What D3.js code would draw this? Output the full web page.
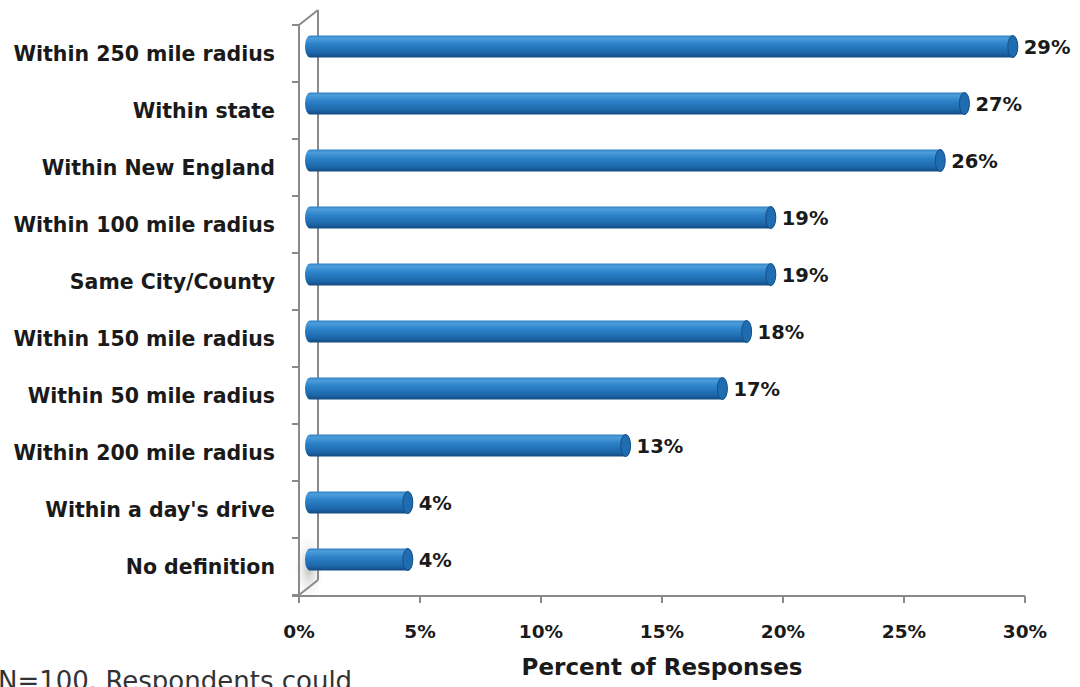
<!DOCTYPE html>
<html><head><meta charset="utf-8">
<script src="https://cdn.jsdelivr.net/npm/d3@7"></script>
<style>
body{margin:0;background:#fff;}
svg{display:block;font-family:"DejaVu Sans","Noto Sans",sans-serif;}
</style></head>
<body><svg id="c" width="1080" height="687"></svg>
<script>
const categories = ["Within 250 mile radius","Within state","Within New England","Within 100 mile radius","Same City/County","Within 150 mile radius","Within 50 mile radius","Within 200 mile radius","Within a day's drive","No definition"];
const values = [29,27,26,19,19,18,17,13,4,4];
const tickValues = [0,5,10,15,20,25,30];
const xTitle = "Percent of Responses";
const note = "N=100. Respondents could";

const svg = d3.select("#c");
const x = d3.scaleLinear().domain([0,30]).range([299,1025]);
const y = d3.scaleBand().domain(categories).range([25,595]);
const depthX = 19, depthY = 15;

const defs = svg.append("defs");
const g1 = defs.append("linearGradient").attr("id","barg").attr("x1",0).attr("y1",0).attr("x2",0).attr("y2",1);
[[0,"#2f80c4"],[0.12,"#4d9ddb"],[0.4,"#2c82c8"],[0.8,"#1c66a9"],[1,"#134a80"]].forEach(s=>g1.append("stop").attr("offset",s[0]).attr("stop-color",s[1]));
const g2 = defs.append("radialGradient").attr("id","shad").attr("cx",0.5).attr("cy",0.5).attr("r",0.5);
g2.append("stop").attr("offset",0).attr("stop-color","#bdbdbd");
g2.append("stop").attr("offset",1).attr("stop-color","#ffffff").attr("stop-opacity",0);

svg.append("ellipse").attr("cx",309).attr("cy",568).attr("rx",16).attr("ry",36).attr("fill","url(#shad)");

const axisColor = "#8a8a8a";
const wall = svg.append("g").attr("stroke",axisColor).attr("stroke-width",2).attr("fill","none");
wall.append("line").attr("x1",x(0)).attr("y1",y.range()[0]).attr("x2",x(0)).attr("y2",y.range()[1]);
wall.append("line").attr("x1",x(0)+depthX).attr("y1",y.range()[0]-depthY).attr("x2",x(0)+depthX).attr("y2",y.range()[1]-depthY);
wall.append("line").attr("x1",x(0)).attr("y1",y.range()[0]).attr("x2",x(0)+depthX).attr("y2",y.range()[0]-depthY);
wall.append("line").attr("x1",x(0)).attr("y1",y.range()[1]).attr("x2",x(0)+depthX).attr("y2",y.range()[1]-depthY);
const bounds = categories.map(c=>y(c)).concat([y.range()[1]]);
wall.selectAll("line.lt").data(bounds).join("line").attr("class","lt")
  .attr("x1",x(0)-7).attr("x2",x(0)).attr("y1",d=>d).attr("y2",d=>d);
const yAxisPos = y.range()[1]+1;
wall.append("line").attr("x1",x(0)-7).attr("x2",x(30)).attr("y1",yAxisPos).attr("y2",yAxisPos);
wall.selectAll("line.bt").data(tickValues).join("line").attr("class","bt")
  .attr("x1",d=>x(d)).attr("x2",d=>x(d)).attr("y1",yAxisPos).attr("y2",yAxisPos+7);

svg.append("g").selectAll("text").data(tickValues).join("text")
  .attr("x",d=>x(d)).attr("y",638).attr("text-anchor","middle")
  .attr("font-size",18.5).attr("font-weight",700).attr("fill","#1a1a1a")
  .text(d=>d+"%");

const barH = 22, offX = 12, offY = -7;
const bars = svg.append("g");
categories.forEach((c,i)=>{
  const v = values[i];
  const cy = y(c)+y.bandwidth()/2+offY;
  const x0 = x(0)+6, x1 = x(v)+offX;
  const r = barH/2, rx = 5;
  bars.append("path")
    .attr("d",`M${x0+rx},${cy-r} L${x1},${cy-r} A${rx},${r} 0 0 1 ${x1},${cy+r} L${x0+rx},${cy+r} A${rx},${r} 0 0 1 ${x0+rx},${cy-r} Z`)
    .attr("fill","url(#barg)");
  bars.append("ellipse").attr("cx",x1).attr("cy",cy).attr("rx",rx).attr("ry",r)
    .attr("fill","#1f6db0").attr("stroke","#164f86").attr("stroke-width",1);
  bars.append("text").attr("x",x1+11).attr("y",cy+1).attr("dy","0.35em")
    .attr("font-size",19.5).attr("font-weight",700).attr("fill","#1a1a1a").text(v+"%");
});

svg.append("g").selectAll("text").data(categories).join("text")
  .attr("x",275).attr("y",d=>y(d)+y.bandwidth()/2).attr("dy","0.36em")
  .attr("text-anchor","end").attr("font-size",20.5).attr("font-weight",700).attr("fill","#1a1a1a")
  .text(d=>d);

svg.append("text").attr("x",662).attr("y",675).attr("text-anchor","middle")
  .attr("font-size",23).attr("font-weight",700).attr("fill","#1a1a1a").text(xTitle);
svg.append("text").attr("x",-2).attr("y",690).attr("font-size",26).attr("fill","#333").text(note);
</script></body></html>
